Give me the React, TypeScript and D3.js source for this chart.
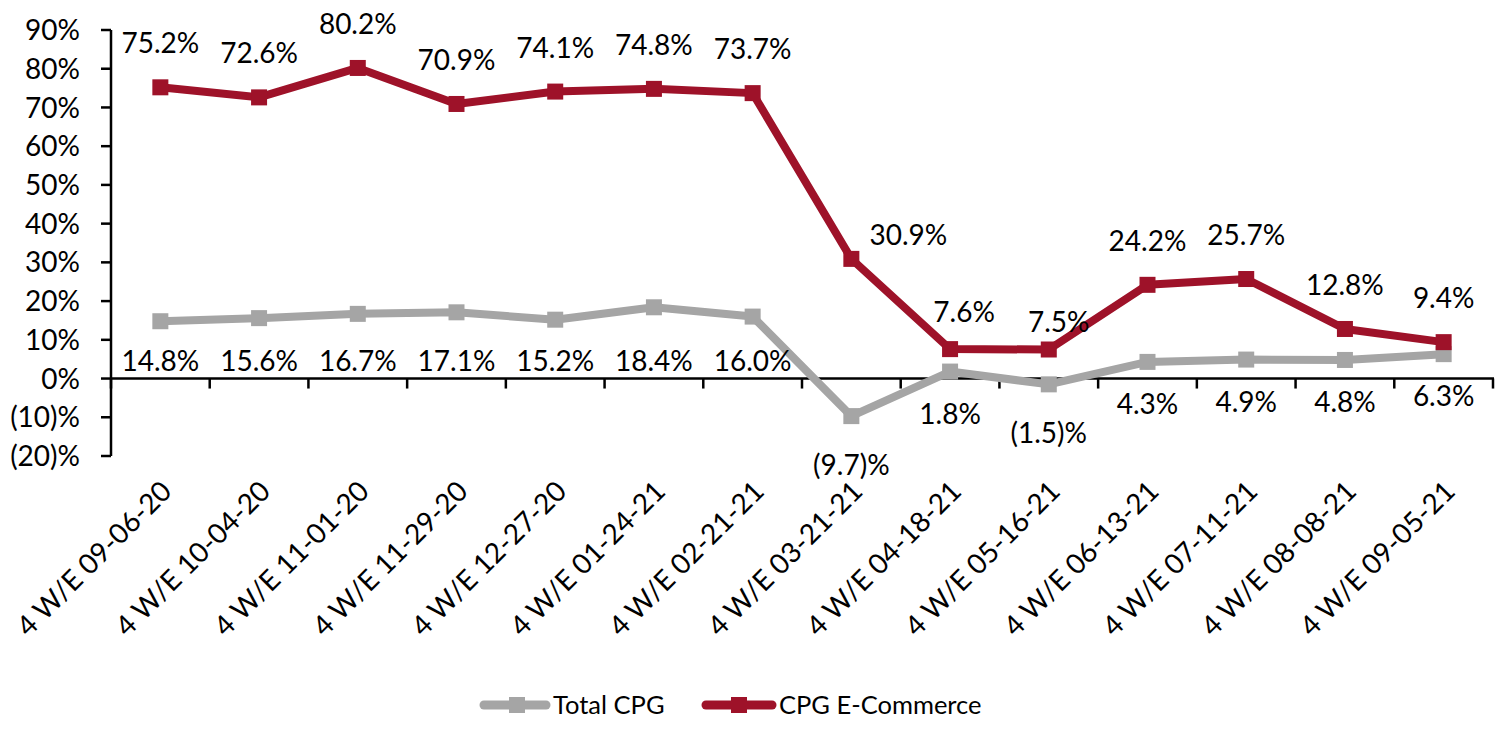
import React from "react";
import * as d3 from "d3";

const categories = [
  "4 W/E 09-06-20",
  "4 W/E 10-04-20",
  "4 W/E 11-01-20",
  "4 W/E 11-29-20",
  "4 W/E 12-27-20",
  "4 W/E 01-24-21",
  "4 W/E 02-21-21",
  "4 W/E 03-21-21",
  "4 W/E 04-18-21",
  "4 W/E 05-16-21",
  "4 W/E 06-13-21",
  "4 W/E 07-11-21",
  "4 W/E 08-08-21",
  "4 W/E 09-05-21",
];

const totalCPG = [14.8, 15.6, 16.7, 17.1, 15.2, 18.4, 16.0, -9.7, 1.8, -1.5, 4.3, 4.9, 4.8, 6.3];
const ecommerce = [75.2, 72.6, 80.2, 70.9, 74.1, 74.8, 73.7, 30.9, 7.6, 7.5, 24.2, 25.7, 12.8, 9.4];

const yTicks = [-20, -10, 0, 10, 20, 30, 40, 50, 60, 70, 80, 90];

// manual nudges for a few e-commerce labels (dx, dy) as in the original
const ecomNudge: Record<number, [number, number]> = {
  7: [57, 20],
  8: [14, 7],
  9: [10, 16],
};

const RED = "#9e1229";
const GRAY = "#a5a5a5";
const FONT = "Lato, sans-serif";

const fmt = (v: number) => (v < 0 ? `(${Math.abs(v).toFixed(1)})%` : `${v.toFixed(1)}%`);
const fmtTick = (v: number) => (v < 0 ? `(${Math.abs(v)})%` : `${v}%`);

export default function App() {
  const width = 1500;
  const height = 734;

  const x = d3.scaleBand<string>().domain(categories).range([111, 1493]);
  const y = d3.scaleLinear().domain([-20, 90]).range([456, 30]);
  const cx = (i: number) => (x(categories[i]) as number) + x.bandwidth() / 2;

  const line = d3
    .line<number>()
    .x((_, i) => cx(i))
    .y((d) => y(d));

  const boundaries = d3.range(categories.length + 1).map((i) => 111 + i * x.bandwidth());
  const ms = 16;
  const fs = 28;

  return (
    <svg
      width={width}
      height={height}
      style={{ position: "absolute", left: 0, top: 0, background: "#fff" }}
      fontFamily={FONT}
    >
      {/* y axis */}
      <line x1={111} x2={111} y1={y(90)} y2={y(-20)} stroke="#000" strokeWidth={2.5} />
      {yTicks.map((t) => (
        <g key={t}>
          <line x1={101} x2={111} y1={y(t)} y2={y(t)} stroke="#000" strokeWidth={2.5} />
          <text x={80} y={y(t)} dy="0.36em" textAnchor="end" fontSize={fs}>
            {fmtTick(t)}
          </text>
        </g>
      ))}

      {/* x axis at zero */}
      <line x1={111} x2={1494} y1={y(0)} y2={y(0)} stroke="#000" strokeWidth={2.5} />
      {boundaries.map((b, i) => (
        <line key={i} x1={b} x2={b} y1={y(0)} y2={y(0) + 10} stroke="#000" strokeWidth={2.5} />
      ))}

      {/* category labels */}
      {categories.map((c, i) => (
        <text
          key={c}
          transform={`translate(${cx(i) + 13},${493}) rotate(-45)`}
          textAnchor="end"
          fontSize={fs}
        >
          {c}
        </text>
      ))}

      {/* series lines */}
      <path d={line(totalCPG) || ""} fill="none" stroke={GRAY} strokeWidth={8} strokeLinejoin="round" />
      <path d={line(ecommerce) || ""} fill="none" stroke={RED} strokeWidth={8} strokeLinejoin="round" />

      {totalCPG.map((v, i) => (
        <rect key={`t${i}`} x={cx(i) - ms / 2} y={y(v) - ms / 2} width={ms} height={ms} fill={GRAY} />
      ))}
      {ecommerce.map((v, i) => (
        <rect key={`e${i}`} x={cx(i) - ms / 2} y={y(v) - ms / 2} width={ms} height={ms} fill={RED} />
      ))}

      {/* data labels */}
      {totalCPG.map((v, i) => {
        const ly = v > 10 ? y(0) - 18 : y(v) + (v < 0 ? 49 : 42);
        return (
          <text key={`lt${i}`} x={cx(i)} y={ly} dy="0.36em" textAnchor="middle" fontSize={fs}>
            {fmt(v)}
          </text>
        );
      })}
      {ecommerce.map((v, i) => {
        const [dx, dy] = ecomNudge[i] || [0, 0];
        return (
          <text key={`le${i}`} x={cx(i) + dx} y={y(v) - 44 + dy} dy="0.36em" textAnchor="middle" fontSize={fs}>
            {fmt(v)}
          </text>
        );
      })}

      {/* legend */}
      <g>
        <line x1={484} x2={546} y1={705} y2={705} stroke={GRAY} strokeWidth={9} strokeLinecap="round" />
        <rect x={517 - ms / 2} y={705 - ms / 2} width={ms} height={ms} fill={GRAY} />
        <text x={553} y={714} fontSize={25.5}>Total CPG</text>
        <line x1={706} x2={772} y1={705} y2={705} stroke={RED} strokeWidth={9} strokeLinecap="round" />
        <rect x={739 - ms / 2} y={705 - ms / 2} width={ms} height={ms} fill={RED} />
        <text x={779} y={714} fontSize={25.5}>CPG E-Commerce</text>
      </g>
    </svg>
  );
}
